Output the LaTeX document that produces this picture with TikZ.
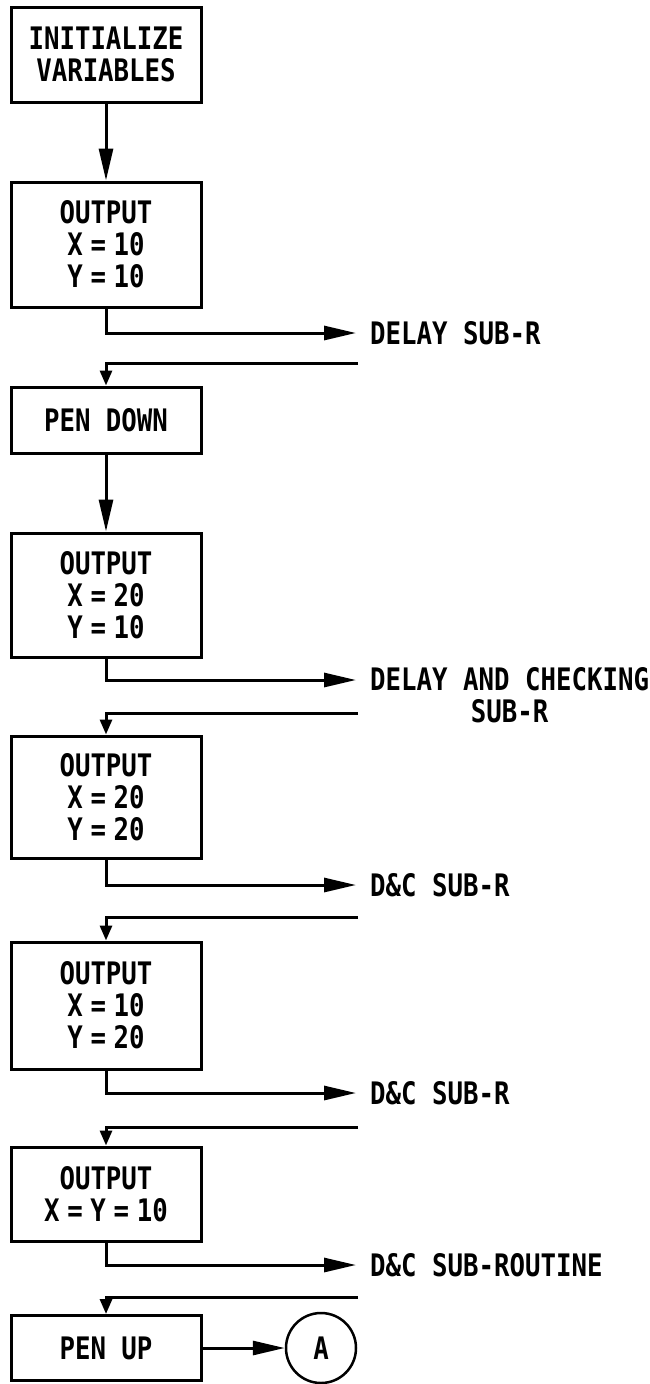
\documentclass[tikz,border=0pt]{standalone}
\usepackage{fontspec}
\usetikzlibrary{arrows.meta}
\newfontfamily\tw[FakeStretch=0.83]{DejaVu Sans Mono}
\newcommand\hs{\hspace{0.25em}}
\begin{document}
\begin{tikzpicture}[x=1pt,y=-1pt,
  txt/.style={font=\tw\bfseries\fontsize{31}{32}\selectfont},
  box/.style={draw, line width=3pt, minimum width=190pt, inner sep=0pt, align=center, txt},
  lbl/.style={inner sep=0pt, anchor=west, txt},
  bigarrow/.style={line width=3pt, -{Triangle[length=32pt,width=14pt]}},
  smallarrow/.style={line width=3pt, -{Triangle[length=15pt,width=12pt]}}]
\useasboundingbox (0,0) rectangle (650,1384);

% boxes
\node[box, minimum height=95pt]  (b1) at (106,54.5)  {INITIALIZE\\VARIABLES};
\node[box, minimum height=125pt] (b2) at (106,244.5) {OUTPUT\\X\hs=\hs10\\Y\hs=\hs10};
\node[box, minimum height=66pt]  (b3) at (106,420)   {PEN DOWN};
\node[box, minimum height=124pt] (b4) at (106,595)   {OUTPUT\\X\hs=\hs20\\Y\hs=\hs10};
\node[box, minimum height=122pt] (b5) at (106,797)   {OUTPUT\\X\hs=\hs20\\Y\hs=\hs20};
\node[box, minimum height=127pt] (b6) at (106,1005.5){OUTPUT\\X\hs=\hs10\\Y\hs=\hs20};
\node[box, minimum height=94pt]  (b7) at (106,1194)  {OUTPUT\\X\hs=\hs Y\hs=\hs10};
\node[box, minimum height=65pt]  (b8) at (106,1348)  {PEN UP};
\node[draw, circle, line width=2.5pt, minimum size=70pt, inner sep=0pt, txt] (A) at (321,1348) {A};

% subroutine labels
\node[lbl] (l1) at (370,333)  {DELAY SUB-R};
\node[inner sep=0pt, anchor=north west, align=center, txt] (l2) at (370,667) {DELAY AND CHECKING\\SUB-R};
\node[lbl] (l3) at (370,885)  {D\&C SUB-R};
\node[lbl] (l4) at (370,1093) {D\&C SUB-R};
\node[lbl] (l5) at (370,1265) {D\&C SUB-ROUTINE};

% call ends and return starts
\coordinate (c1) at (356,333);
\coordinate (c2) at (356,680);
\coordinate (c3) at (356,885);
\coordinate (c4) at (356,1093);
\coordinate (c5) at (356,1265);
\coordinate (r1) at (358,363);
\coordinate (r2) at (358,713);
\coordinate (r3) at (358,917);
\coordinate (r4) at (358,1127);
\coordinate (r5) at (358,1297);

% straight flow
\draw[bigarrow] (b1.south) -- (b2.north);
\draw[bigarrow] (b3.south) -- (b4.north);
\draw[bigarrow] (b8.east) -- (A.west);

% calls
\draw[bigarrow] (b2.south) |- (c1);
\draw[bigarrow] (b4.south) |- (c2);
\draw[bigarrow] (b5.south) |- (c3);
\draw[bigarrow] (b6.south) |- (c4);
\draw[bigarrow] (b7.south) |- (c5);

% returns
\draw[smallarrow] (r1) -| (b3.north);
\draw[smallarrow] (r2) -| (b5.north);
\draw[smallarrow] (r3) -| (b6.north);
\draw[smallarrow] (r4) -| (b7.north);
\draw[smallarrow] (r5) -| (b8.north);
\end{tikzpicture}
\end{document}
